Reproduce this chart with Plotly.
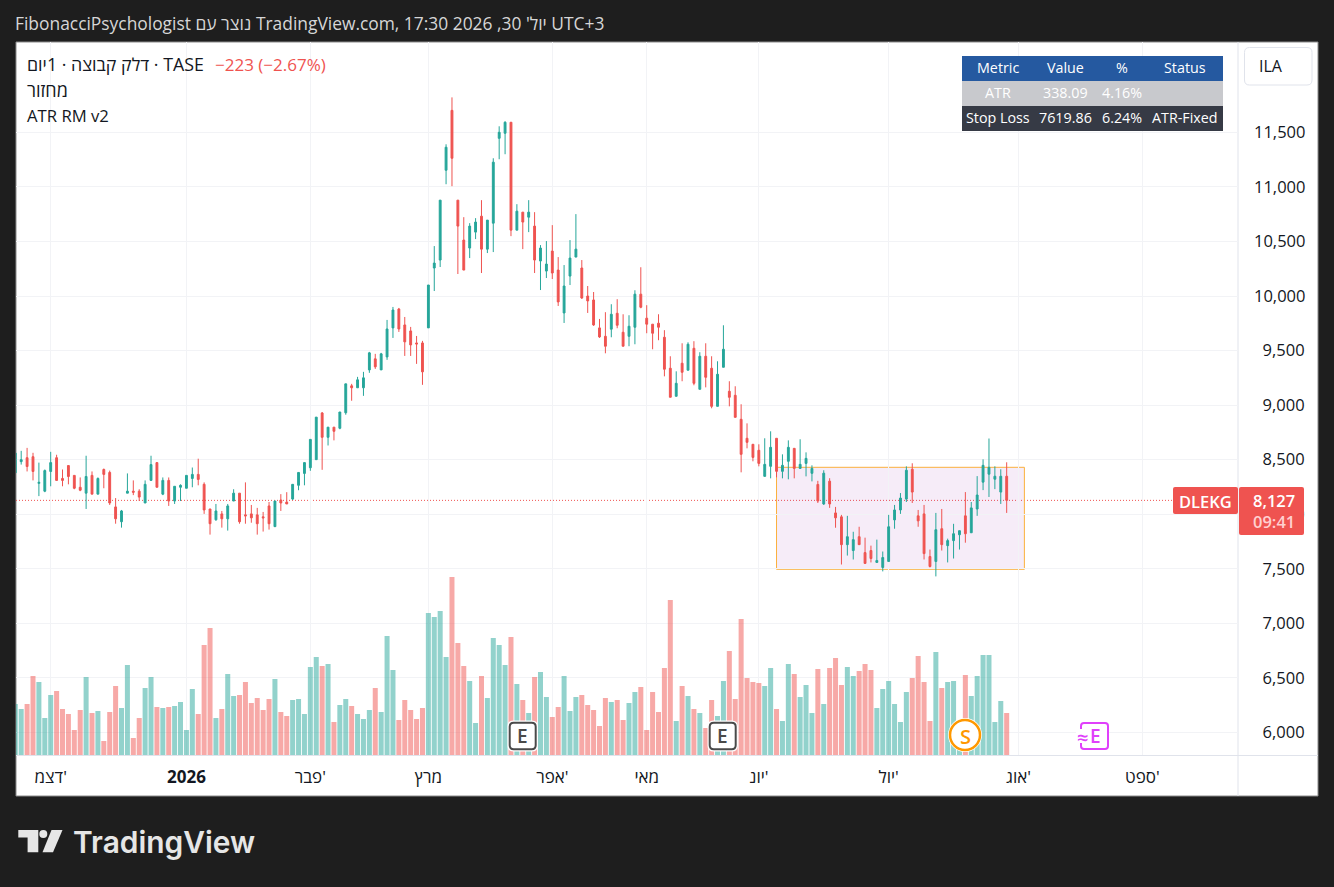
import plotly.graph_objects as go

bars = list(range(169))
opens = [8380,8482,8518,8527,8283,8211,8392,8518,8328,8446,8356,8247,8193,8356,8184,8410,8383,8067,7931,8193,
8211,8211,8103,8310,8473,8184,8310,8121,8247,8238,8328,8365,8274,8048,7949,8003,7958,8121,8193,7994,
8003,7994,7976,8076,7886,8130,8112,8139,8265,8374,8426,8500,8928,8705,8798,8788,8930,9177,9159,9159,
9323,9424,9323,9442,9708,9881,9735,9680,9570,9570,9708,10257,10330,11153,11702,10879,10513,10440,10586,10732,
10430,10668,11446,11492,11593,10604,10769,10723,10641,10321,10229,10412,10238,9845,10183,10357,10257,10000,9964,9708,
9631,9696,9842,9668,9631,9714,10017,9797,9742,9751,9622,9338,9081,9384,9320,9521,9145,9448,9338,8989,
9347,9127,9090,8870,8696,8641,8586,8347,8439,8696,8393,8485,8604,8420,8466,8375,8273,8094,8303,8012,
7976,7721,7667,7794,7648,7667,7558,7512,7567,7948,8039,8139,8412,7985,8003,7612,7567,7867,7712,7758,
7812,7985,7830,8048,8294,8367,8321,8203,8348]
highs = [8570,8581,8608,8563,8473,8410,8572,8545,8410,8446,8356,8337,8536,8392,8337,8419,8400,8148,8039,8374,
8310,8229,8310,8536,8473,8337,8337,8256,8274,8356,8428,8509,8292,8048,8094,8030,8094,8229,8193,8292,
8085,8058,8021,8112,8121,8184,8202,8274,8383,8473,8686,8890,8937,8798,8798,8937,9195,9195,9259,9305,
9488,9470,9479,9781,9900,9891,9808,9717,9634,9589,10101,10458,10879,11391,11821,10879,10723,10668,10714,10879,
10696,11263,11556,11602,11593,10842,10769,10879,10769,10467,10504,10650,10357,10284,10513,10751,10330,10092,10037,9790,
9852,9925,9971,9833,9824,10053,10264,9916,9742,9833,9687,9448,9310,9567,9576,9586,9485,9567,9448,9402,
9732,9219,9173,9008,8833,8641,8641,8696,8760,8696,8549,8677,8604,8687,8567,8448,8306,8403,8330,8067,
7994,7985,7839,7885,7785,7712,7767,7658,7994,8085,8194,8439,8467,8039,8085,7676,8012,8048,7776,7912,
7849,8203,8112,8349,8503,8694,8439,8412,8476]
lows = [8380,8455,8392,8310,8166,8202,8256,8310,8256,8274,8229,8211,8048,8184,8184,8238,8085,7913,7877,8193,
8175,8121,8103,8310,8247,8175,8076,8094,8121,8238,8247,8265,8003,7813,7940,7877,7850,8121,7913,7913,
7922,7813,7841,7859,7886,8030,8094,8130,8220,8265,8398,8500,8407,8630,8677,8779,8912,9040,9159,9085,
9296,9332,9323,9415,9616,9671,9451,9451,9378,9186,9708,10046,10266,11025,11007,10202,10238,10348,10522,10211,
10394,10403,11254,11300,10549,10604,10430,10586,10211,10055,10165,10156,9909,9753,10101,10357,9973,9845,9726,9616,
9475,9622,9705,9540,9540,9558,9888,9659,9512,9595,9264,9072,9081,9219,9320,9182,9145,9163,8971,8989,
9347,8989,8888,8384,8604,8485,8439,8347,8329,8338,8329,8320,8329,8420,8347,8301,8103,8085,8058,7876,
7539,7621,7585,7721,7549,7558,7558,7476,7567,7867,8003,8112,8103,7885,7585,7512,7430,7667,7558,7594,
7676,7739,7830,7985,8221,8158,8230,8094,8012]
closes = [8560,8500,8437,8392,8292,8400,8473,8310,8310,8346,8238,8220,8346,8184,8328,8365,8103,7958,8030,8211,
8202,8157,8274,8455,8247,8310,8121,8256,8265,8356,8365,8319,8039,7913,8030,7958,8076,8193,7931,7985,
7967,7913,7967,7913,8121,8103,8094,8274,8383,8473,8686,8890,8705,8798,8760,8937,9195,9159,9232,9250,
9479,9351,9470,9698,9872,9698,9580,9552,9561,9305,10101,10302,10879,11364,11263,10641,10238,10641,10678,10430,
10696,11227,11501,11593,10604,10778,10678,10769,10330,10440,10293,10211,9946,10092,10348,10430,9982,9955,9735,9625,
9540,9833,9732,9540,9723,10017,9897,9742,9659,9714,9329,9072,9200,9301,9558,9200,9448,9255,8989,9283,
9512,9072,8888,8549,8659,8521,8466,8457,8613,8393,8448,8613,8420,8457,8512,8420,8121,8376,8094,7967,
7721,7794,7767,7721,7549,7594,7576,7603,7885,8039,8148,8403,8203,7939,7639,7521,7858,7721,7758,7821,
7849,7821,8058,8176,8448,8430,8348,8348,8127]
volumes = [153,138,153,237,219,111,180,192,138,123,75,135,234,126,132,42,129,207,141,270,
51,111,201,234,144,141,144,147,159,75,198,123,330,381,111,138,243,177,180,219,
156,171,135,168,228,129,117,165,168,123,264,294,267,273,99,150,168,147,123,108,
135,201,129,357,255,105,165,135,108,141,426,414,432,294,534,336,267,222,96,237,
171,351,330,270,354,213,165,126,234,249,174,114,144,237,132,174,180,150,135,87,
171,159,165,105,156,189,204,75,189,129,261,465,102,207,177,138,126,81,165,117,
222,312,168,408,231,219,216,207,261,138,102,273,243,174,210,126,258,153,261,291,
210,264,237,252,273,255,141,198,222,153,99,189,231,297,219,102,309,201,219,222,
70,240,177,237,300,300,99,162,126]

price_ticks = [6000,6500,7000,7500,8000,8500,9000,9500,10000,10500,11000,11500]
month_ticks = [6,29,50,70,91,107,126,148,170,191]
month_labels = ["דצמ'","<b>2026</b>","פבר'","מרץ","אפר'","מאי","יונ'","יול'","אוג'","ספט'"]

last_price = 8127
box_bars = [129,171]
box_prices = [7495,8430]

table_header = ["Metric","Value","%","Status"]
table_row1 = ["ATR","338.09","4.16%",""]
table_row2 = ["Stop Loss","7619.86","6.24%","ATR-Fixed"]

GREEN="#26a69a"; RED="#ef5350"; DARK="#1e1e1e"; INK="#131722"; GRID="#f2f3f6"; AXIS="#e0e3eb"
FONT="Open Sans"
L,R,T,B=16,1238,42,755
def px(x): return (x-L)/(R-L)
def py(y): return (B-y)/(B-T)

shapes=[]; ann=[]
def rect(x0,y0,x1,y1,fill,line=None,lw=1,layer="above",r=0):
    if r:
        a,b,c,d=px(x0),py(y0),px(x1),py(y1)
        rx=r/(R-L); ry=r/(B-T)
        path=(f"M{a+rx},{b} L{c-rx},{b} Q{c},{b} {c},{b-ry} L{c},{d+ry} Q{c},{d} {c-rx},{d} "
              f"L{a+rx},{d} Q{a},{d} {a},{d+ry} L{a},{b-ry} Q{a},{b} {a+rx},{b} Z")
        shapes.append(dict(type="path",xref="paper",yref="paper",path=path,fillcolor=fill,
                           line=dict(color=line or fill,width=lw if line else 0),layer=layer))
    else:
        shapes.append(dict(type="rect",xref="paper",yref="paper",x0=px(x0),x1=px(x1),y0=py(y0),y1=py(y1),
                           fillcolor=fill,line=dict(color=line or fill,width=lw if line else 0),layer=layer))
def text(x,y,s,size=16,color=INK,anchor="left",weight=None,font=FONT):
    f=dict(size=size,color=color,family=font)
    if weight: f["weight"]=weight
    ann.append(dict(xref="paper",yref="paper",x=px(x),y=py(y),text=s,showarrow=False,xanchor=anchor,yanchor="middle",
                    font=f,borderpad=0,borderwidth=0))

# white frame
rect(16,42,1318,796,"#ffffff",line="#8a8a8a",lw=1,layer="below")
# drawing box and last price line
shapes.append(dict(type="rect",xref="x",yref="y",x0=box_bars[0],x1=box_bars[1],y0=box_prices[0],y1=box_prices[1],
                   fillcolor="rgba(156,39,176,0.09)",line=dict(color="#fbb03c",width=1),layer="below"))
shapes.append(dict(type="line",xref="paper",yref="y",x0=0,x1=1,y0=last_price,y1=last_price,
                   line=dict(color=RED,width=1,dash="1px,2px"),layer="below"))
# axis frame lines
shapes.append(dict(type="line",xref="paper",yref="paper",x0=px(1238),x1=px(1238),y0=py(42),y1=py(796),line=dict(color=AXIS,width=1),layer="below"))
shapes.append(dict(type="line",xref="paper",yref="paper",x0=px(16),x1=px(1318),y0=py(755.5),y1=py(755.5),line=dict(color=AXIS,width=1),layer="below"))

# header and legend
text(15,23,"FibonacciPsychologist נוצר עם TradingView.com, יול' 30, 2026 17:30 UTC+3",size=17.4,color="#d6d6d6",weight=500)
text(27,64,"דלק קבוצה · 1יום · TASE",size=17.8)
text(215,64,"−223 (−2.67%)",size=17,color=RED)
text(27,90,"מחזור",size=18)
text(27,115.5,"ATR RM v2",size=16.7)

# table
rows=[(table_header,56,81,"#2559a0","#ffffff"),(table_row1,81,106,"#c8c9cd","#ffffff"),(table_row2,106,131,"#363a45","#ffffff")]
cols=[997.5,1065,1121.5,1185]
for vals,y0,y1,bg,fg in rows:
    rect(962,y0,1223,y1,bg)
    for cx,v in zip(cols,vals):
        if v: text(cx,(y0+y1)/2-1,v,size=14.3,color=fg,anchor="center")

# currency button
rect(1244.5,47.5,1312,85,"#ffffff",line=AXIS,lw=1,r=5)
text(1271,66,"ILA",size=16,anchor="center")

# price labels
rect(1173,487,1238,514,RED,r=2)
text(1205,501,"DLEKG",size=16.5,color="#ffffff",anchor="center",weight=600)
rect(1239,487,1304,535,RED,r=2)
text(1274,510.5,"8,127<br><span style='color:#ffd0d0'>09:41</span>",size=16.5,color="#ffffff",anchor="center",weight=600)

# event badges
for x0 in (508.7,708.7):
    rect(x0-1.2,720.5,x0+29.2,751.5,"#ffffff",r=6)
    rect(x0+1,722.7,x0+27,749.3,"#ffffff",line="#4a4a4a",lw=2,r=4)
    text(x0+14,736,"E",size=19,color="#4a4a4a",anchor="center",weight=600)
shapes.append(dict(type="circle",xref="paper",yref="paper",x0=px(948),x1=px(982),y0=py(752),y1=py(718),fillcolor="#ffffff",line=dict(width=0),layer="above"))
shapes.append(dict(type="circle",xref="paper",yref="paper",x0=px(950),x1=px(980),y0=py(750),y1=py(720),fillcolor="#ffffff",line=dict(color="#ff9800",width=2.5),layer="above"))
text(965,736,"S",size=20,color="#ff9800",anchor="center",weight=600)
rect(1081,723,1108,749,"#ffffff",line="#e040fb",lw=2,r=3)
rect(1076,729,1087,743,"#ffffff")
text(1095,736,"E",size=19,color="#e040fb",anchor="center",weight=600)
text(1082,737,"≈",size=20,color="#e040fb",anchor="center",weight=600)

# TradingView logo
def poly(pts,fill):
    d="M"+" L".join(f"{px(a)},{py(b)}" for a,b in pts)+" Z"
    shapes.append(dict(type="path",xref="paper",yref="paper",path=d,fillcolor=fill,line=dict(width=0),layer="above"))
LOGO="#e6e6e6"
poly([(18.3,830),(38.3,830),(38.3,852.3),(27.6,852.3),(27.6,837.5),(18.3,837.5)],LOGO)
shapes.append(dict(type="circle",xref="paper",yref="paper",x0=px(39.3),x1=px(47.3),y0=py(838),y1=py(830),fillcolor=LOGO,line=dict(width=0),layer="above"))
poly([(51.5,830),(62.5,830),(53,852.3),(42.5,852.3)],LOGO)
text(72.5,842,"TradingView",size=29.9,color=LOGO,weight=600,font="Inter")

vol_colors=["rgba(38,166,154,0.5)" if c>=o else "rgba(239,83,80,0.5)" for o,c in zip(opens,closes)]

fig=go.Figure()
fig.add_trace(go.Bar(x=bars,y=volumes,yaxis="y2",marker=dict(color=vol_colors,line=dict(width=0)),showlegend=False,hoverinfo="skip"))
fig.add_trace(go.Candlestick(x=bars,open=opens,high=highs,low=lows,close=closes,
    increasing=dict(line=dict(color=GREEN,width=1),fillcolor=GREEN),
    decreasing=dict(line=dict(color=RED,width=1),fillcolor=RED),whiskerwidth=0,showlegend=False))

price_labels=[("\u00a0\u00a0" if v<10000 else "")+f"{v:,}" for v in price_ticks]
fig.update_layout(
    width=1334,height=887,margin=dict(l=L,r=1334-R,t=T,b=887-B,pad=0),
    paper_bgcolor=DARK,plot_bgcolor="rgba(0,0,0,0)",showlegend=False,
    bargap=0.15,boxgap=0.55,
    font=dict(family=FONT,color=INK),
    xaxis=dict(range=[0.12,207.2],tickmode="array",tickvals=month_ticks,ticktext=month_labels,
               rangeslider=dict(visible=False),showgrid=True,gridcolor=GRID,gridwidth=1,zeroline=False,
               ticks="",showline=False,tickfont=dict(size=17,color=INK),ticklabelstandoff=10),
    yaxis=dict(range=[5792.8,12328.7],side="right",tickmode="array",tickvals=price_ticks,ticktext=price_labels,
               showgrid=True,gridcolor=GRID,gridwidth=1,zeroline=False,ticks="",showline=False,
               tickfont=dict(size=16.5,color=INK),ticklabelstandoff=15),
    yaxis2=dict(range=[0,2139],overlaying="y",side="left",visible=False,showgrid=False,zeroline=False),
    shapes=shapes,annotations=ann,
)
fig.write_html("out.html",config=dict(displayModeBar=False),
    post_script="document.body.style.margin='0';document.body.style.background='#1e1e1e';document.documentElement.style.overflow='hidden';")
